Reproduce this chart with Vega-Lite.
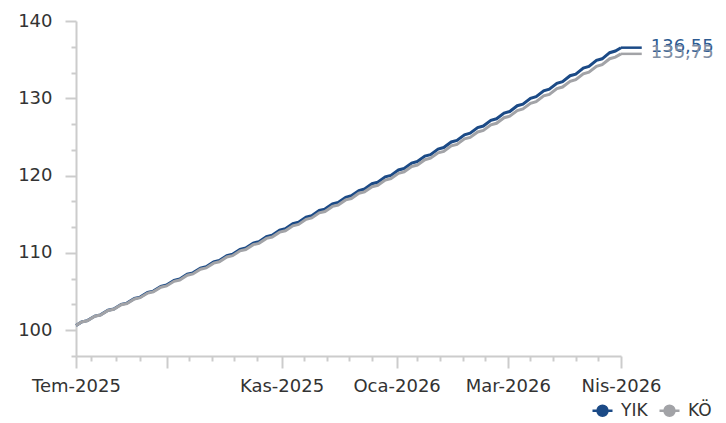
{
  "$schema": "https://vega.github.io/schema/vega-lite/v6.json",
  "width": 545,
  "height": 335,
  "autosize": "none",
  "padding": {"left": 76, "top": 21, "right": 105, "bottom": 67},
  "background": "white",
  "config": {
    "view": {"stroke": null},
    "font": "DejaVu Sans",
    "axis": {
      "grid": false,
      "title": null,
      "domainColor": "#cccccc",
      "domainWidth": 2,
      "tickColor": "#cccccc",
      "tickWidth": 2,
      "labelFont": "DejaVu Sans",
      "labelFontSize": 18,
      "labelColor": "#333333"
    }
  },
  "datasets": {
    "ends": [
      {"s": "YIK", "d": "2026-04-30", "d2": "2026-05-11", "v": 136.55, "lab": "136,55"},
      {"s": "KÖ", "d": "2026-04-30", "d2": "2026-05-11", "v": 135.75, "lab": "135,75"}
    ]
  },
  "resolve": {"axis": {"x": "independent", "y": "independent"}},
  "layer": [
    {
      "data": {
        "values": [
          {"d": "2025-07-15", "YIK": 100.60, "KÖ": 100.60},
          {"d": "2025-07-18", "YIK": 101.08, "KÖ": 101.07},
          {"d": "2025-07-21", "YIK": 101.24, "KÖ": 101.23},
          {"d": "2025-07-25", "YIK": 101.83, "KÖ": 101.81},
          {"d": "2025-07-28", "YIK": 101.99, "KÖ": 101.97},
          {"d": "2025-08-01", "YIK": 102.59, "KÖ": 102.55},
          {"d": "2025-08-04", "YIK": 102.75, "KÖ": 102.71},
          {"d": "2025-08-08", "YIK": 103.35, "KÖ": 103.30},
          {"d": "2025-08-11", "YIK": 103.51, "KÖ": 103.46},
          {"d": "2025-08-15", "YIK": 104.11, "KÖ": 104.05},
          {"d": "2025-08-18", "YIK": 104.28, "KÖ": 104.21},
          {"d": "2025-08-22", "YIK": 104.89, "KÖ": 104.81},
          {"d": "2025-08-25", "YIK": 105.06, "KÖ": 104.97},
          {"d": "2025-08-29", "YIK": 105.67, "KÖ": 105.57},
          {"d": "2025-09-01", "YIK": 105.84, "KÖ": 105.73},
          {"d": "2025-09-05", "YIK": 106.45, "KÖ": 106.33},
          {"d": "2025-09-08", "YIK": 106.62, "KÖ": 106.50},
          {"d": "2025-09-12", "YIK": 107.25, "KÖ": 107.11},
          {"d": "2025-09-15", "YIK": 107.42, "KÖ": 107.28},
          {"d": "2025-09-19", "YIK": 108.04, "KÖ": 107.89},
          {"d": "2025-09-22", "YIK": 108.21, "KÖ": 108.06},
          {"d": "2025-09-26", "YIK": 108.85, "KÖ": 108.68},
          {"d": "2025-09-29", "YIK": 109.02, "KÖ": 108.85},
          {"d": "2025-10-03", "YIK": 109.66, "KÖ": 109.47},
          {"d": "2025-10-06", "YIK": 109.83, "KÖ": 109.64},
          {"d": "2025-10-10", "YIK": 110.46, "KÖ": 110.27},
          {"d": "2025-10-13", "YIK": 110.64, "KÖ": 110.44},
          {"d": "2025-10-17", "YIK": 111.28, "KÖ": 111.07},
          {"d": "2025-10-20", "YIK": 111.46, "KÖ": 111.24},
          {"d": "2025-10-24", "YIK": 112.11, "KÖ": 111.88},
          {"d": "2025-10-27", "YIK": 112.29, "KÖ": 112.05},
          {"d": "2025-10-31", "YIK": 112.95, "KÖ": 112.69},
          {"d": "2025-11-03", "YIK": 113.13, "KÖ": 112.87},
          {"d": "2025-11-07", "YIK": 113.79, "KÖ": 113.51},
          {"d": "2025-11-10", "YIK": 113.97, "KÖ": 113.69},
          {"d": "2025-11-14", "YIK": 114.63, "KÖ": 114.34},
          {"d": "2025-11-17", "YIK": 114.81, "KÖ": 114.52},
          {"d": "2025-11-21", "YIK": 115.49, "KÖ": 115.18},
          {"d": "2025-11-24", "YIK": 115.67, "KÖ": 115.36},
          {"d": "2025-11-28", "YIK": 116.35, "KÖ": 116.02},
          {"d": "2025-12-01", "YIK": 116.53, "KÖ": 116.20},
          {"d": "2025-12-05", "YIK": 117.20, "KÖ": 116.86},
          {"d": "2025-12-08", "YIK": 117.39, "KÖ": 117.04},
          {"d": "2025-12-12", "YIK": 118.07, "KÖ": 117.72},
          {"d": "2025-12-15", "YIK": 118.26, "KÖ": 117.90},
          {"d": "2025-12-19", "YIK": 118.95, "KÖ": 118.57},
          {"d": "2025-12-22", "YIK": 119.14, "KÖ": 118.75},
          {"d": "2025-12-26", "YIK": 119.84, "KÖ": 119.43},
          {"d": "2025-12-29", "YIK": 120.03, "KÖ": 119.62},
          {"d": "2026-01-02", "YIK": 120.73, "KÖ": 120.30},
          {"d": "2026-01-05", "YIK": 120.92, "KÖ": 120.49},
          {"d": "2026-01-09", "YIK": 121.63, "KÖ": 121.18},
          {"d": "2026-01-12", "YIK": 121.82, "KÖ": 121.37},
          {"d": "2026-01-16", "YIK": 122.53, "KÖ": 122.06},
          {"d": "2026-01-19", "YIK": 122.72, "KÖ": 122.25},
          {"d": "2026-01-23", "YIK": 123.43, "KÖ": 122.95},
          {"d": "2026-01-26", "YIK": 123.63, "KÖ": 123.14},
          {"d": "2026-01-30", "YIK": 124.35, "KÖ": 123.85},
          {"d": "2026-02-02", "YIK": 124.55, "KÖ": 124.04},
          {"d": "2026-02-06", "YIK": 125.28, "KÖ": 124.75},
          {"d": "2026-02-09", "YIK": 125.48, "KÖ": 124.94},
          {"d": "2026-02-13", "YIK": 126.21, "KÖ": 125.65},
          {"d": "2026-02-16", "YIK": 126.41, "KÖ": 125.85},
          {"d": "2026-02-20", "YIK": 127.15, "KÖ": 126.57},
          {"d": "2026-02-23", "YIK": 127.35, "KÖ": 126.77},
          {"d": "2026-02-27", "YIK": 128.09, "KÖ": 127.49},
          {"d": "2026-03-02", "YIK": 128.29, "KÖ": 127.69},
          {"d": "2026-03-06", "YIK": 129.04, "KÖ": 128.42},
          {"d": "2026-03-09", "YIK": 129.25, "KÖ": 128.62},
          {"d": "2026-03-13", "YIK": 130.00, "KÖ": 129.36},
          {"d": "2026-03-16", "YIK": 130.21, "KÖ": 129.56},
          {"d": "2026-03-20", "YIK": 130.96, "KÖ": 130.31},
          {"d": "2026-03-23", "YIK": 131.17, "KÖ": 130.51},
          {"d": "2026-03-27", "YIK": 131.94, "KÖ": 131.26},
          {"d": "2026-03-30", "YIK": 132.15, "KÖ": 131.46},
          {"d": "2026-04-03", "YIK": 132.92, "KÖ": 132.20},
          {"d": "2026-04-06", "YIK": 133.13, "KÖ": 132.41},
          {"d": "2026-04-10", "YIK": 133.91, "KÖ": 133.17},
          {"d": "2026-04-13", "YIK": 134.12, "KÖ": 133.38},
          {"d": "2026-04-17", "YIK": 134.90, "KÖ": 134.14},
          {"d": "2026-04-20", "YIK": 135.11, "KÖ": 134.35},
          {"d": "2026-04-24", "YIK": 135.90, "KÖ": 135.12},
          {"d": "2026-04-27", "YIK": 136.12, "KÖ": 135.33},
          {"d": "2026-04-30", "YIK": 136.55, "KÖ": 135.75}
        ]
      },
      "transform": [{"fold": ["YIK", "KÖ"], "as": ["s", "v"]}],
      "mark": {"type": "line", "strokeWidth": 3},
      "encoding": {
        "x": {
          "field": "d",
          "type": "temporal",
          "scale": {
            "type": "utc",
            "domain": [
              {"year": 2025, "month": 7, "date": 15, "utc": true},
              {"year": 2026, "month": 4, "date": 30, "utc": true}
            ]
          },
          "axis": {
            "orient": "bottom",
            "values": [
              {"year": 2025, "month": 7, "date": 15, "utc": true},
              {"year": 2025, "month": 9, "date": 1, "utc": true},
              {"year": 2025, "month": 11, "date": 1, "utc": true},
              {"year": 2026, "month": 1, "date": 1, "utc": true},
              {"year": 2026, "month": 3, "date": 1, "utc": true},
              {"year": 2026, "month": 4, "date": 30, "utc": true}
            ],
            "labelExpr": "utcmonth(datum.value) == 8 ? '' : ['Oca','Şub','Mar','Nis','May','Haz','Tem','Ağu','Eyl','Eki','Kas','Ara'][utcmonth(datum.value)] + '-' + utcyear(datum.value)",
            "tickSize": 12,
            "labelPadding": 9,
            "labelOverlap": false,
            "labelFlush": false,
            "labelBound": false
          }
        },
        "y": {
          "field": "v",
          "type": "quantitative",
          "scale": {"domain": [96.6667, 140], "zero": false, "nice": false},
          "axis": {
            "orient": "left",
            "values": [100, 110, 120, 130, 140],
            "tickSize": 11,
            "labelPadding": 13,
            "labelOverlap": false,
            "labelFlush": false,
            "labelBound": false
          }
        },
        "color": {
          "field": "s",
          "type": "nominal",
          "scale": {"domain": ["YIK", "KÖ"], "range": ["#1b4a86", "#a2a3a7"]},
          "legend": {
            "orient": "none",
            "legendX": 518,
            "legendY": 381,
            "direction": "horizontal",
            "title": null,
            "padding": 0,
            "labelFont": "DejaVu Sans",
            "labelFontSize": 17,
            "labelColor": "#333333",
            "labelOffset": 10,
            "columnPadding": 6,
            "symbolType": "M-2,0H2M1,0A1,1,0,1,1,-1,0A1,1,0,1,1,1,0Z",
            "symbolSize": 100,
            "symbolStrokeWidth": 2.5,
            "encode": {"symbols": {"update": {"fill": {"scale": "color", "field": "value"}}}}
          }
        }
      }
    },
    {
      "data": {"name": "ends"},
      "mark": {"type": "rule", "strokeWidth": 2.5},
      "encoding": {
        "x": {
          "field": "d",
          "type": "temporal",
          "axis": {
            "orient": "bottom",
            "values": [
              {"year": 2025, "month": 7, "date": 23, "utc": true},
              {"year": 2025, "month": 8, "date": 5, "utc": true},
              {"year": 2025, "month": 8, "date": 18, "utc": true},
              {"year": 2025, "month": 9, "date": 13, "utc": true},
              {"year": 2025, "month": 9, "date": 25, "utc": true},
              {"year": 2025, "month": 10, "date": 7, "utc": true},
              {"year": 2025, "month": 10, "date": 19, "utc": true},
              {"year": 2025, "month": 11, "date": 13, "utc": true},
              {"year": 2025, "month": 11, "date": 25, "utc": true},
              {"year": 2025, "month": 12, "date": 7, "utc": true},
              {"year": 2025, "month": 12, "date": 19, "utc": true},
              {"year": 2026, "month": 1, "date": 12, "utc": true},
              {"year": 2026, "month": 1, "date": 24, "utc": true},
              {"year": 2026, "month": 2, "date": 5, "utc": true},
              {"year": 2026, "month": 2, "date": 17, "utc": true},
              {"year": 2026, "month": 3, "date": 13, "utc": true},
              {"year": 2026, "month": 3, "date": 25, "utc": true},
              {"year": 2026, "month": 4, "date": 6, "utc": true},
              {"year": 2026, "month": 4, "date": 18, "utc": true}
            ],
            "tickSize": 5,
            "labels": false,
            "domain": false
          }
        },
        "x2": {"field": "d2"},
        "y": {
          "field": "v",
          "type": "quantitative",
          "axis": {
            "orient": "left",
            "values": [96.6667, 103.3333, 106.6667, 113.3333, 116.6667, 123.3333, 126.6667, 133.3333, 136.6667],
            "tickSize": 5,
            "labels": false,
            "domain": false
          }
        },
        "color": {"field": "s", "type": "nominal", "legend": null}
      }
    },
    {
      "data": {"name": "ends"},
      "mark": {"type": "text", "align": "left", "baseline": "middle", "dx": 9, "dy": -1, "fontSize": 18, "font": "DejaVu Sans"},
      "encoding": {
        "x": {"field": "d2", "type": "temporal", "axis": null},
        "y": {"field": "v", "type": "quantitative", "axis": null},
        "text": {"field": "lab"},
        "color": {"condition": {"test": "datum.s == 'YIK'", "value": "#2d5b92"}, "value": "#7e8da3"}
      }
    }
  ]
}
